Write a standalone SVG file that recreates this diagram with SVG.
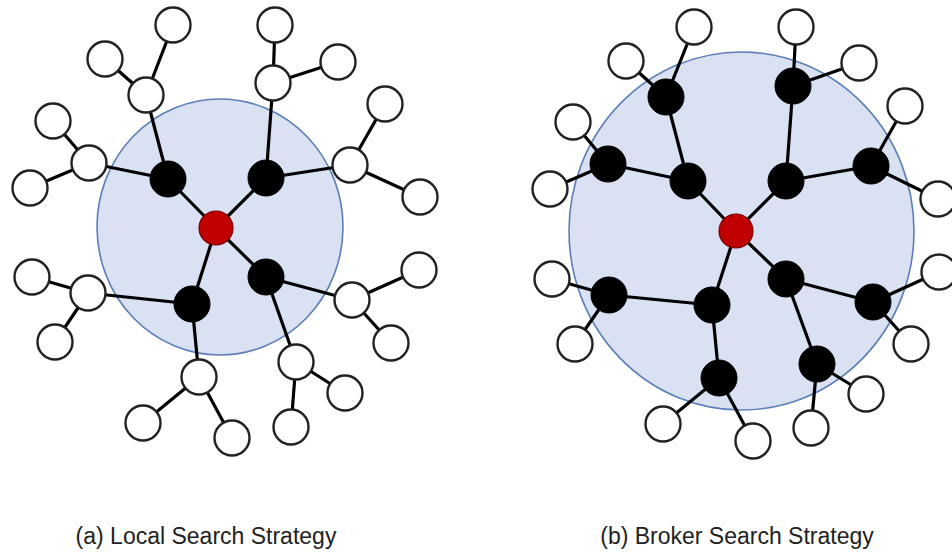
<svg xmlns="http://www.w3.org/2000/svg" width="952" height="552" viewBox="0 0 952 552">
<style>
.area{fill:#d9e1f2;stroke:#5b7fb6;stroke-width:1.6}
.e{stroke:#000;stroke-width:3.2;fill:none;stroke-linecap:round}
.w{fill:#fff;stroke:#222;stroke-width:2.4}
.b{fill:#000;stroke:#000;stroke-width:1}
.r{fill:#c00000;stroke:#7a0000;stroke-width:1.2}
.lbl{font-family:"Liberation Sans",Arial,sans-serif;font-size:23px;fill:#222;text-anchor:middle}
</style>
<rect width="952" height="552" fill="#fff"/>
<ellipse class="area" cx="220" cy="227" rx="123" ry="128"/>
<ellipse class="area" cx="741.5" cy="231" rx="172.5" ry="179"/>
<g id="connectors">
<path class="e" d="M216 228L168 179M216 228L266 178M216 228L192 304M216 228L266 277
M168 179L146 95M168 179L89 163M146 95L173 25M146 95L105 59M89 163L53 121M89 163L30 188
M266 178L273 83M266 178L350 165M273 83L275 25M273 83L338 62M350 165L385 104M350 165L420 197
M192 304L88 293M192 304L199 377M88 293L32 277M88 293L55 342M199 377L143 423M199 377L232 438
M266 277L352 300M266 277L296 362M352 300L419 270M352 300L391 343M296 362L345 393M296 362L291 427"/>
<path class="e" d="M736 231L688 181M736 231L786 181M736 231L712 305M736 231L786 279
M688 181L666 97M688 181L608 164M786 181L793 86M786 181L871 166M712 305L609 295M712 305L719 378M786 279L873 302M786 279L817 364
M666 97L694 27M666 97L626 61M608 164L573 122M608 164L550 189M793 86L796 27M793 86L859 63M871 166L905 106M871 166L938 199
M609 295L552 279M609 295L575 344M719 378L663 424M719 378L753 441M873 302L939 272M873 302L911 344M817 364L866 394M817 364L811 428"/>
</g>
<g id="a-center"><circle class="r" cx="216" cy="228" r="17"/></g>
<g id="a-brokers">
<circle class="b" cx="168" cy="179" r="18"/><circle class="b" cx="266" cy="178" r="18"/>
<circle class="b" cx="192" cy="304" r="18"/><circle class="b" cx="266" cy="277" r="18"/>
</g>
<g id="a-peers">
<circle class="w" cx="146" cy="95" r="17.5"/><circle class="w" cx="173" cy="25" r="17.5"/><circle class="w" cx="105" cy="59" r="17.5"/>
<circle class="w" cx="89" cy="163" r="17.5"/><circle class="w" cx="53" cy="121" r="17.5"/><circle class="w" cx="30" cy="188" r="17.5"/>
<circle class="w" cx="273" cy="83" r="17.5"/><circle class="w" cx="275" cy="25" r="17.5"/><circle class="w" cx="338" cy="62" r="17.5"/>
<circle class="w" cx="350" cy="165" r="17.5"/><circle class="w" cx="385" cy="104" r="17.5"/><circle class="w" cx="420" cy="197" r="17.5"/>
<circle class="w" cx="88" cy="293" r="17.5"/><circle class="w" cx="32" cy="277" r="17.5"/><circle class="w" cx="55" cy="342" r="17.5"/>
<circle class="w" cx="199" cy="377" r="17.5"/><circle class="w" cx="143" cy="423" r="17.5"/><circle class="w" cx="232" cy="438" r="17.5"/>
<circle class="w" cx="352" cy="300" r="17.5"/><circle class="w" cx="419" cy="270" r="17.5"/><circle class="w" cx="391" cy="343" r="17.5"/>
<circle class="w" cx="296" cy="362" r="17.5"/><circle class="w" cx="345" cy="393" r="17.5"/><circle class="w" cx="291" cy="427" r="17.5"/>
</g>
<g id="b-center"><circle class="r" cx="736" cy="231" r="17"/></g>
<g id="b-brokers">
<circle class="b" cx="688" cy="181" r="18"/><circle class="b" cx="786" cy="181" r="18"/>
<circle class="b" cx="712" cy="305" r="18"/><circle class="b" cx="786" cy="279" r="18"/>
<circle class="b" cx="666" cy="97" r="18"/><circle class="b" cx="608" cy="164" r="18"/>
<circle class="b" cx="793" cy="86" r="18"/><circle class="b" cx="871" cy="166" r="18"/>
<circle class="b" cx="609" cy="295" r="18"/><circle class="b" cx="719" cy="378" r="18"/>
<circle class="b" cx="873" cy="302" r="18"/><circle class="b" cx="817" cy="364" r="18"/>
</g>
<g id="b-peers">
<circle class="w" cx="694" cy="27" r="17.5"/><circle class="w" cx="626" cy="61" r="17.5"/>
<circle class="w" cx="573" cy="122" r="17.5"/><circle class="w" cx="550" cy="189" r="17.5"/>
<circle class="w" cx="796" cy="27" r="17.5"/><circle class="w" cx="859" cy="63" r="17.5"/>
<circle class="w" cx="905" cy="106" r="17.5"/><circle class="w" cx="938" cy="199" r="17.5"/>
<circle class="w" cx="552" cy="279" r="17.5"/><circle class="w" cx="575" cy="344" r="17.5"/>
<circle class="w" cx="663" cy="424" r="17.5"/><circle class="w" cx="753" cy="441" r="17.5"/>
<circle class="w" cx="939" cy="272" r="17.5"/><circle class="w" cx="911" cy="344" r="17.5"/>
<circle class="w" cx="866" cy="394" r="17.5"/><circle class="w" cx="811" cy="428" r="17.5"/>
</g>
<g id="labels">
<text class="lbl" x="206" y="544">(a) Local Search Strategy</text>
<text class="lbl" x="737" y="544">(b) Broker Search Strategy</text>
</g>
</svg>
